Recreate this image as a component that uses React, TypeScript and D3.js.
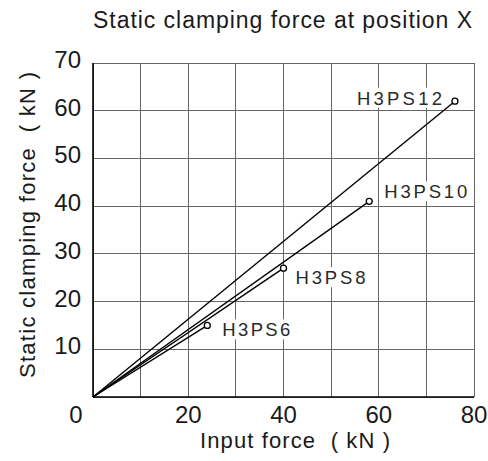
import React from 'react';
import * as d3 from 'd3';

const seriesNames = ['H3PS12', 'H3PS10', 'H3PS8', 'H3PS6'];
const inputForce = [76, 58, 40, 24];
const clampingForce = [62, 41, 27, 15];
const xTickValues = [20, 40, 60, 80];
const yTickValues = [10, 20, 30, 40, 50, 60, 70];
const xGridValues = [0, 10, 20, 30, 40, 50, 60, 70, 80];
const yGridValues = [0, 10, 20, 30, 40, 50, 60, 70];
const titleText = 'Static clamping force at position X';
const xTitleText = 'Input force\u00a0\u00a0(\u00a0kN\u00a0)';
const yTitleText = 'Static clamping force\u00a0\u00a0(\u00a0kN\u00a0)';

// label placement relative to each end point (layout only)
const labelLayout = [
  { dx: -98, dy: 3.5, len: 85 },
  { dx: 15, dy: -3, len: 83 },
  { dx: 12, dy: 16, len: 70 },
  { dx: 15, dy: 11, len: 68 },
];

const W = 488;
const H = 461;
const FONT = '"Liberation Sans", Arial, Helvetica, sans-serif';

export default function App() {
  const x = d3.scaleLinear().domain([0, 80]).range([93, 474]);
  const y = d3.scaleLinear().domain([0, 70]).range([397, 63]);
  const line = d3.line<[number, number]>().x((d) => x(d[0])).y((d) => y(d[1]));

  return (
    <svg
      width={W}
      height={H}
      style={{ position: 'absolute', left: 0, top: 0, background: '#fff' }}
      fontFamily={FONT}
    >
      <rect x={0} y={0} width={W} height={H} fill="#fff" />
      {/* grid */}
      <g stroke="#666" strokeWidth={1} shapeRendering="crispEdges">
        {xGridValues.map((v) => (
          <line key={'gx' + v} x1={x(v)} x2={x(v)} y1={y(0)} y2={y(70)} />
        ))}
        {yGridValues.map((v) => (
          <line key={'gy' + v} x1={x(0)} x2={x(80)} y1={y(v)} y2={y(v)} />
        ))}
      </g>
      {/* axes */}
      <g stroke="#000" strokeWidth={1.6}>
        <line x1={x(0)} x2={x(0)} y1={y(0)} y2={y(70)} />
        <line x1={x(0)} x2={x(80)} y1={y(0)} y2={y(0)} />
      </g>
      {/* label backgrounds */}
      {seriesNames.map((name, i) => {
        const L = labelLayout[i];
        const px = x(inputForce[i]) + L.dx;
        const py = y(clampingForce[i]) + L.dy;
        return (
          <rect key={'bg' + name} x={px - 3} y={py - 17} width={L.len + 6} height={20} fill="#fff" />
        );
      })}
      {/* series lines */}
      {seriesNames.map((name, i) => (
        <path
          key={'l' + name}
          d={line([[0, 0], [inputForce[i], clampingForce[i]]]) || ''}
          fill="none"
          stroke="#000"
          strokeWidth={1.4}
        />
      ))}
      {seriesNames.map((name, i) => (
        <circle
          key={'c' + name}
          cx={x(inputForce[i])}
          cy={y(clampingForce[i])}
          r={3}
          fill="#fff"
          stroke="#000"
          strokeWidth={1.3}
        />
      ))}
      {/* series labels */}
      {seriesNames.map((name, i) => {
        const L = labelLayout[i];
        return (
          <text
            key={'t' + name}
            x={x(inputForce[i]) + L.dx}
            y={y(clampingForce[i]) + L.dy}
            fontSize={18.5}
            textLength={L.len}
            lengthAdjust="spacing"
            fill="#2a2a2a"
          >
            {name}
          </text>
        );
      })}
      {/* y tick labels */}
      {yTickValues.map((v) => (
        <text key={'yt' + v} x={81} y={y(v) + 5} fontSize={24} textAnchor="end" fill="#1a1a1a">
          {v}
        </text>
      ))}
      {/* x tick labels */}
      <text x={76} y={423} fontSize={24} textAnchor="middle" fill="#1a1a1a">0</text>
      {xTickValues.map((v) => (
        <text key={'xt' + v} x={x(v)} y={423} fontSize={24} textAnchor="middle" fill="#1a1a1a">
          {v}
        </text>
      ))}
      {/* titles */}
      <text x={93} y={28} fontSize={23} textLength={379} lengthAdjust="spacing" fill="#1a1a1a">
        {titleText}
      </text>
      <text x={200} y={448} fontSize={22} textLength={190} lengthAdjust="spacing" fill="#1a1a1a">
        {xTitleText}
      </text>
      <text
        transform="translate(35,378) rotate(-90)"
        x={0}
        y={0}
        fontSize={22}
        textLength={306}
        lengthAdjust="spacing"
        fill="#1a1a1a"
      >
        {yTitleText}
      </text>
    </svg>
  );
}
